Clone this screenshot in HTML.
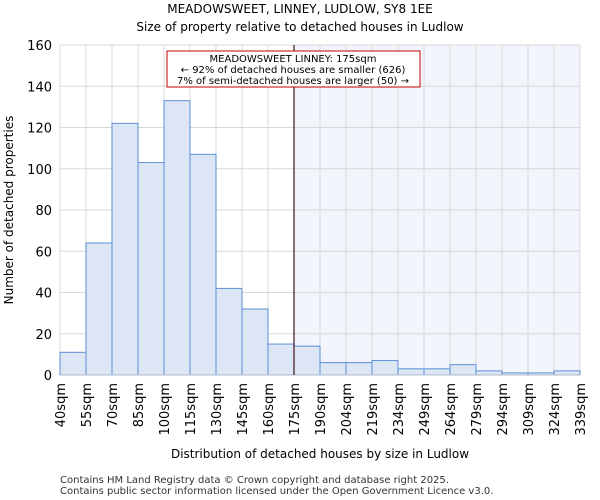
<!DOCTYPE html>
<html><head><meta charset="utf-8"><style>body{margin:0;background:#fff}svg{display:block;font-family:"DejaVu Sans","Liberation Sans",sans-serif}</style></head>
<body>
<svg id="chart" width="600" height="500" viewBox="0 0 600 500">
<text x="300" y="13" text-anchor="middle" font-size="12">MEADOWSWEET, LINNEY, LUDLOW, SY8 1EE</text>
<text x="300" y="31" text-anchor="middle" font-size="12">Size of property relative to detached houses in Ludlow</text>
<g id="grid"></g><g id="bars"></g><g id="axes"></g>
<text x="320" y="458" text-anchor="middle" font-size="12">Distribution of detached houses by size in Ludlow</text>
<text transform="translate(13,210) rotate(-90)" text-anchor="middle" font-size="12">Number of detached properties</text>
<text x="60" y="483" font-size="10" fill="#333">Contains HM Land Registry data © Crown copyright and database right 2025.</text>
<text x="60" y="494" font-size="10" fill="#333">Contains public sector information licensed under the Open Government Licence v3.0.</text>
</svg>
<script>
const categories=["40sqm","55sqm","70sqm","85sqm","100sqm","115sqm","130sqm","145sqm","160sqm","175sqm","190sqm","204sqm","219sqm","234sqm","249sqm","264sqm","279sqm","294sqm","309sqm","324sqm","339sqm"];
const counts=[11,64,122,103,133,107,42,32,15,14,6,6,7,3,3,5,2,1,1,2];
const yTicks=[0,20,40,60,80,100,120,140,160];
const markerIndex=9;
const annotation=["MEADOWSWEET LINNEY: 175sqm","← 92% of detached houses are smaller (626)","7% of semi-detached houses are larger (50) →"];
const NS="http://www.w3.org/2000/svg";
const L=60,R=580,T=45,B=375,yMax=160;
const bw=(R-L)/counts.length;
const xPos=i=>L+i*bw;
const yPos=v=>B-v/yMax*(B-T);
function mk(tag,attrs,parent,txt){const e=document.createElementNS(NS,tag);for(const k in attrs)e.setAttribute(k,attrs[k]);if(txt!==undefined)e.textContent=txt;document.getElementById(parent).appendChild(e);return e;}
let s=mk('rect',{x:xPos(markerIndex),y:T,width:R-xPos(markerIndex),height:B-T,fill:'#f2f5fc'},'grid');


yTicks.forEach(t=>{let g=mk('line',{x1:L,x2:R,y1:yPos(t),y2:yPos(t),stroke:'#d8d8d8'},'grid');


let lb=mk('text',{x:L-8,y:yPos(t)+5,'text-anchor':'end','font-size':13},'axes',t);

});
categories.forEach((c,i)=>{let g=mk('line',{x1:xPos(i),x2:xPos(i),y1:T,y2:B,stroke:'#d8d8d8'},'grid');


let lb=mk('text',{transform:`translate(${xPos(i)+5},383) rotate(-90)`,'text-anchor':'end','font-size':13},'axes',c);

});
counts.forEach((v,i)=>{let b=mk('rect',{x:xPos(i),y:yPos(v),width:bw,height:B-yPos(v),fill:'#dce6f5',stroke:'#5b8fd6','stroke-width':1},'bars');

});
let ax=mk('line',{x1:L,x2:R,y1:B,y2:B,stroke:'#b0b8c8'},'axes');


let ml=mk('line',{x1:xPos(markerIndex),x2:xPos(markerIndex),y1:T,y2:B,stroke:'#40101a','stroke-width':1.2},'axes');


let box=mk('rect',{x:167,y:51,width:253,height:36,fill:'#fff',stroke:'#c00000'},'axes');


annotation.forEach((t,i)=>{let a=mk('text',{x:293,y:62+i*11,'text-anchor':'middle','font-size':10},'axes',t);

});
</script>
</body></html>
